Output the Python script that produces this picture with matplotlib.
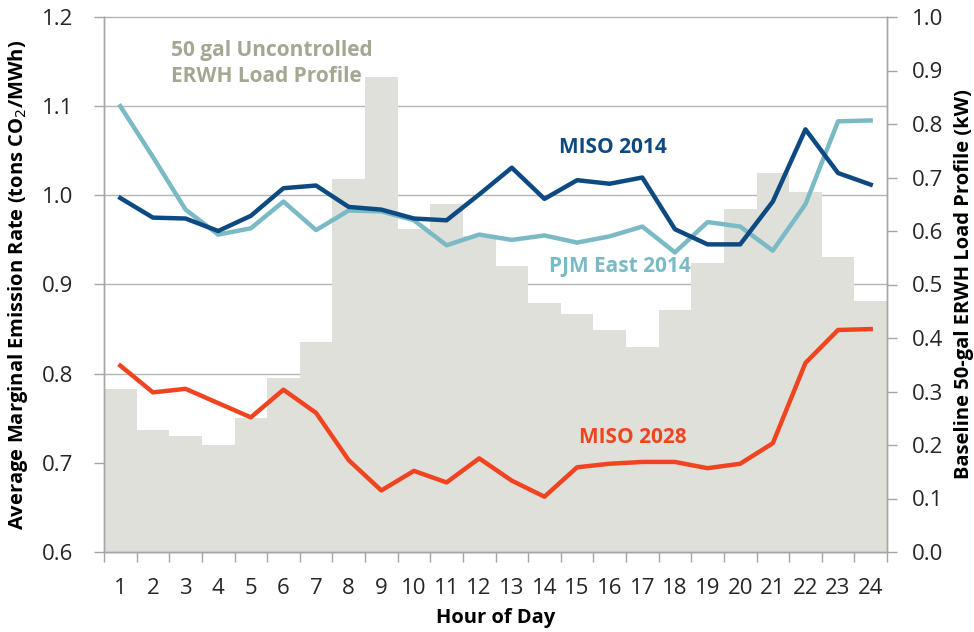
import matplotlib
matplotlib.use("Agg")
import matplotlib.pyplot as plt
import matplotlib.transforms as mtransforms
import numpy as np

hours = list(range(1, 25))
load_kw = [0.305, 0.228, 0.217, 0.200, 0.250, 0.325, 0.393, 0.698, 0.887, 0.604,
           0.650, 0.590, 0.535, 0.465, 0.444, 0.415, 0.383, 0.452, 0.540, 0.641,
           0.708, 0.672, 0.551, 0.469]
miso_2014 = [0.997, 0.975, 0.974, 0.960, 0.977, 1.008, 1.011, 0.987, 0.984, 0.974,
             0.972, 1.001, 1.031, 0.996, 1.017, 1.013, 1.020, 0.962, 0.945, 0.945,
             0.993, 1.074, 1.025, 1.012]
pjm_2014 = [1.100, 1.043, 0.984, 0.956, 0.963, 0.993, 0.961, 0.983, 0.982, 0.972,
            0.944, 0.956, 0.950, 0.955, 0.947, 0.954, 0.965, 0.936, 0.970, 0.965,
            0.938, 0.990, 1.083, 1.084]
miso_2028 = [0.809, 0.779, 0.783, 0.767, 0.751, 0.782, 0.756, 0.703, 0.669, 0.691,
             0.678, 0.705, 0.680, 0.662, 0.695, 0.699, 0.701, 0.701, 0.694, 0.699,
             0.722, 0.812, 0.849, 0.850]
left_ticks = [0.6, 0.7, 0.8, 0.9, 1.0, 1.1, 1.2]
right_ticks = [0.0, 0.1, 0.2, 0.3, 0.4, 0.5, 0.6, 0.7, 0.8, 0.9, 1.0]

plt.rcParams['font.family'] = ['Open Sans', 'DejaVu Sans']

fig = plt.figure(figsize=(9.74, 6.32), dpi=100)
ax = fig.add_axes([104/974, 1-552/632, (887-104)/974, (552-17)/632])
ax2 = ax.twinx()
ax.set_zorder(2)
ax2.set_zorder(1)
ax.patch.set_visible(False)

axis_gray = '#A6A6A6'
grid_gray = '#B4B4B4'

# bars on right axis
ax2.bar(hours, load_kw, width=1.0, color='#DFE0DA', edgecolor='none', zorder=2)
ax2.set_ylim(0, 1.0)
ax2.set_yticks(right_ticks)
ax2.set_yticklabels([f"{v:.1f}" for v in right_ticks])

# gridlines for left axis, drawn beneath bars
trans = mtransforms.blended_transform_factory(ax2.transAxes, ax.transData)
ax.set_ylim(0.6, 1.2)
for v in left_ticks:
    ax2.plot([0, 1], [v, v], transform=trans, color=grid_gray, lw=1.0, zorder=1, clip_on=False)

ax.plot(hours, pjm_2014, color='#79BAC4', lw=3.2, solid_joinstyle='round', zorder=3)
ax.plot(hours, miso_2014, color='#0E4A82', lw=3.2, solid_joinstyle='round', zorder=4)
ax.plot(hours, miso_2028, color='#F04421', lw=3.2, solid_joinstyle='round', zorder=4)

ax.set_xlim(0.5, 24.5)
ax.set_yticks(left_ticks)
ax.set_yticklabels([f"{v:.1f}" for v in left_ticks])
ax.set_xticks(hours)
ax.set_xticklabels([str(h) for h in hours])
ax.set_xticks(np.arange(0.5, 25, 1.0), minor=True)
ax.tick_params(axis='x', which='major', length=0, pad=19, labelsize=16, colors='#262626')
ax.tick_params(axis='x', which='minor', length=7, width=1, color=axis_gray)
ax.tick_params(axis='y', length=7, width=1, color=axis_gray, labelsize=16, labelcolor='#262626', pad=15)
ax2.tick_params(axis='y', length=7, width=1, color=axis_gray, labelsize=16, labelcolor='#262626', pad=11)
ax2.tick_params(axis='x', length=0)

for a in (ax, ax2):
    for s in a.spines.values():
        s.set_color(axis_gray)
        s.set_linewidth(1.0)
    a.spines['top'].set_visible(False)

ax.set_xlabel('Hour of Day', fontsize=14.5, fontweight='bold')
ax.set_ylabel('Average Marginal Emission Rate (tons CO$_2$/MWh)', fontsize=14.5,
              fontweight='bold')
ax2.set_ylabel('Baseline 50-gal ERWH Load Profile (kW)', fontsize=14.5,
               fontweight='bold')
ax.yaxis.set_label_coords(-0.095, 0.5)
ax2.yaxis.set_label_coords(1.085, 0.5)
ax.xaxis.set_label_coords(0.5, -0.105)

ax.text(2.55, 1.148, '50 gal Uncontrolled\nERWH Load Profile', color='#A4A892',
        fontsize=15, fontweight='bold', ha='left', va='center', linespacing=1.3, zorder=5)
ax.text(16.1, 1.054, 'MISO 2014', color='#0E4A82', fontsize=15, fontweight='bold',
        ha='center', va='center', zorder=5)
ax.text(16.3, 0.920, 'PJM East 2014', color='#79BAC4', fontsize=15, fontweight='bold',
        ha='center', va='center', zorder=5)
ax.text(16.7, 0.728, 'MISO 2028', color='#F04421', fontsize=15, fontweight='bold',
        ha='center', va='center', zorder=5)

fig.savefig('out.png', dpi=100, facecolor='white')
